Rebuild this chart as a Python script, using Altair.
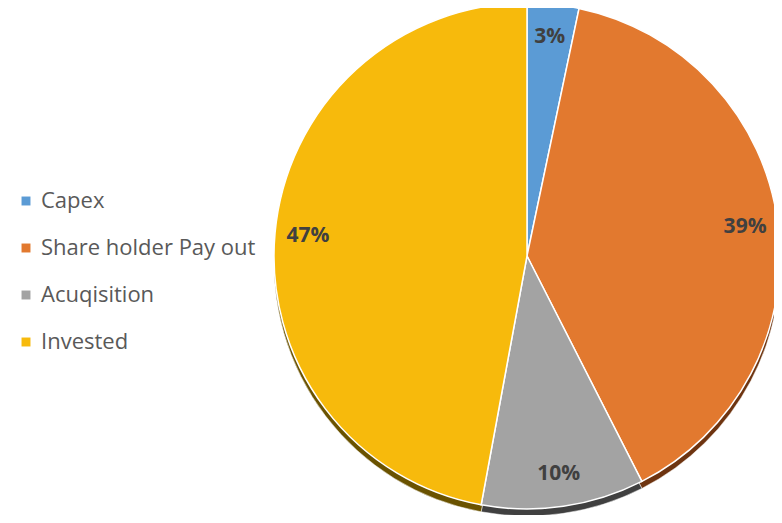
import altair as alt
import pandas as pd

categories = ["Capex", "Share holder Pay out", "Acuqisition", "Invested"]
values = [3.3, 39.2, 10.4, 47.1]
labels = ["3%", "39%", "10%", "47%"]
colors = ["#5B9BD5", "#E2792F", "#A3A3A3", "#F7BA0C"]
side_colors = ["#2E5A80", "#6E3410", "#404040", "#6A5200"]

df = pd.DataFrame({
    "category": categories,
    "value": values,
    "label": labels,
    "idx": list(range(len(categories))),
})

CX, CY, R = 519, 248, 253

theta = alt.Theta("value:Q", stack=True)
order = alt.Order("idx:Q")

side = alt.Chart(df).mark_arc(radius=R, stroke="#ffffff", strokeWidth=0.5).encode(
    theta=theta,
    order=order,
    x=alt.value(CX),
    y=alt.value(CY + 7),
    fill=alt.Fill("category:N", scale=alt.Scale(domain=categories, range=side_colors), legend=None),
)

top = alt.Chart(df).mark_arc(radius=R, stroke="#ffffff", strokeWidth=1.5).encode(
    theta=theta,
    order=order,
    x=alt.value(CX),
    y=alt.value(CY),
    color=alt.Color(
        "category:N",
        scale=alt.Scale(domain=categories, range=colors),
        sort=categories,
        legend=alt.Legend(
            title=None,
            orient="none",
            legendX=7,
            legendY=182,
            symbolType="square",
            symbolSize=80,
            symbolStrokeWidth=0,
            labelFont="Open Sans",
            labelFontSize=22,
            labelColor="#595959",
            labelOffset=4,
            rowPadding=25,
            labelLimit=400,
        ),
    ),
)

text = alt.Chart(df).mark_text(
    radius=220, font="Open Sans", fontSize=21, fontWeight="bold", color="#404040"
).encode(
    theta=theta,
    order=order,
    x=alt.value(CX),
    y=alt.value(CY),
    text="label:N",
)

chart = alt.layer(side, top, text).resolve_scale(
    color="independent", fill="independent"
).properties(
    width=766, height=507, padding=0,
    autosize=alt.AutoSizeParams(type="none"),
).configure_view(stroke="transparent", strokeWidth=0)

chart.save("out.html", embed_options={"renderer": "svg", "actions": False})
